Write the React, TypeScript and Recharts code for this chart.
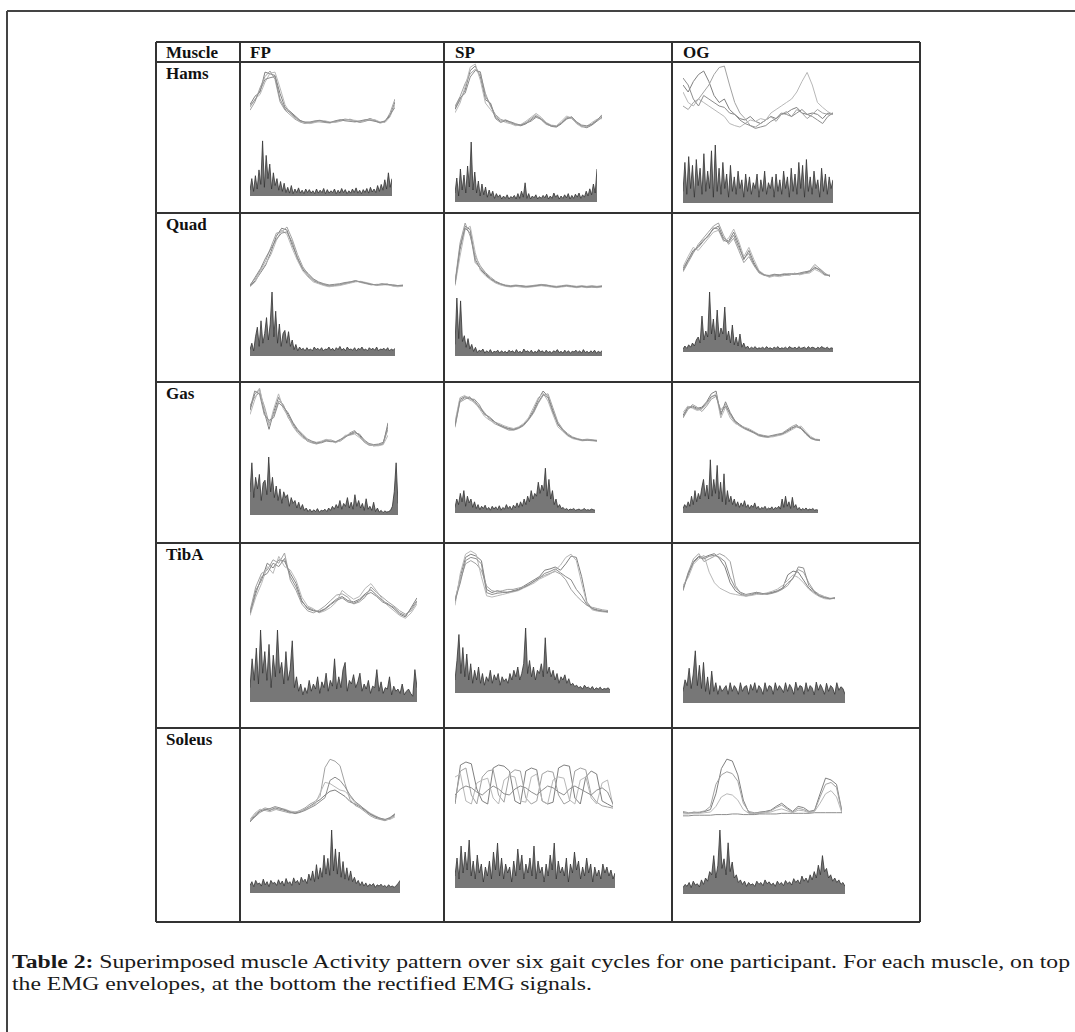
import React from 'react';
import { LineChart, Line, AreaChart, Area, XAxis, YAxis } from 'recharts';

// ---------- labels ----------
const muscles = ['Hams', 'Quad', 'Gas', 'TibA', 'Soleus'];
const conditions = ['FP', 'SP', 'OG'];
const headerMuscle = 'Muscle';
const captionBold = 'Table 2:';
const captionLine1 = ' Superimposed muscle Activity pattern over six gait cycles for one participant. For each muscle, on top';
const captionLine2 = 'the EMG envelopes, at the bottom the rectified EMG signals.';

// ---------- EMG envelopes (0-100 of each panel) ----------
const hamsFpEnv = [
  [40, 55, 62, 98, 95, 92, 60, 35, 28, 20, 12, 8, 7, 9, 11, 10, 8, 9, 12, 14, 13, 10, 9, 12, 15, 12, 8, 10, 20, 45],
  [30, 45, 70, 90, 100, 85, 45, 30, 22, 14, 9, 6, 8, 10, 9, 8, 7, 10, 11, 12, 14, 11, 8, 10, 13, 11, 7, 9, 25, 50],
  [35, 50, 58, 80, 96, 98, 70, 40, 25, 16, 10, 7, 6, 8, 10, 11, 9, 8, 10, 13, 12, 12, 10, 11, 14, 13, 9, 8, 18, 40],
  [38, 48, 65, 85, 88, 90, 50, 32, 26, 18, 11, 9, 9, 11, 12, 9, 8, 11, 13, 11, 10, 9, 11, 13, 12, 10, 8, 11, 22, 35],
];
const hamsSpEnv = [
  [30, 45, 60, 90, 97, 80, 45, 40, 18, 12, 14, 10, 6, 5, 8, 14, 20, 16, 8, 4, 3, 8, 16, 18, 10, 4, 2, 6, 12, 18],
  [35, 50, 70, 85, 92, 85, 55, 35, 22, 15, 12, 9, 7, 6, 10, 16, 22, 14, 7, 5, 4, 10, 18, 16, 9, 5, 3, 8, 14, 20],
  [25, 40, 65, 95, 100, 75, 40, 30, 20, 14, 10, 8, 5, 7, 12, 18, 24, 18, 10, 6, 5, 12, 20, 17, 8, 3, 4, 10, 15, 16],
  [32, 48, 55, 80, 90, 88, 50, 38, 16, 10, 13, 11, 8, 6, 9, 12, 18, 15, 9, 5, 4, 9, 15, 19, 11, 6, 5, 7, 13, 22],
];
const hamsOgEnv = [
  [70, 60, 75, 85, 90, 75, 55, 45, 50, 35, 28, 22, 20, 25, 18, 15, 20, 25, 22, 28, 30, 35, 38, 30, 28, 30, 28, 22, 30, 28],
  [40, 35, 45, 50, 60, 70, 85, 95, 97, 70, 45, 30, 22, 12, 10, 15, 20, 25, 18, 28, 32, 25, 35, 30, 22, 28, 35, 30, 28, 30],
  [60, 45, 40, 50, 45, 40, 35, 30, 25, 15, 12, 10, 15, 20, 18, 22, 20, 30, 35, 40, 45, 50, 60, 75, 88, 70, 45, 38, 32, 28],
  [80, 70, 50, 40, 55, 50, 45, 40, 38, 30, 28, 20, 15, 12, 8, 10, 12, 18, 22, 30, 28, 25, 30, 35, 28, 25, 20, 15, 25, 30],
];
const quadFpEnv = [
  [3, 12, 25, 38, 60, 85, 98, 95, 70, 50, 30, 20, 12, 8, 5, 3, 4, 5, 7, 9, 11, 10, 8, 6, 5, 7, 6, 4, 3, 4],
  [5, 15, 30, 45, 68, 90, 92, 100, 80, 55, 35, 22, 14, 9, 6, 4, 5, 6, 8, 10, 12, 9, 7, 5, 6, 6, 5, 5, 4, 5],
  [2, 10, 28, 40, 55, 78, 95, 88, 65, 45, 28, 18, 10, 7, 4, 2, 3, 4, 6, 8, 10, 11, 9, 7, 4, 6, 7, 3, 2, 3],
  [4, 18, 32, 50, 65, 80, 90, 92, 75, 48, 32, 24, 15, 10, 7, 5, 6, 7, 9, 10, 12, 10, 8, 6, 5, 5, 6, 5, 4, 4],
];
const quadSpEnv = [
  [8, 60, 95, 90, 45, 30, 22, 15, 10, 7, 5, 4, 5, 4, 3, 4, 5, 6, 5, 4, 3, 4, 5, 4, 3, 4, 3, 4, 3, 4],
  [10, 70, 100, 80, 50, 35, 25, 18, 12, 8, 6, 5, 6, 5, 4, 5, 6, 7, 6, 5, 4, 5, 6, 5, 4, 5, 4, 5, 4, 5],
  [5, 50, 90, 95, 55, 28, 20, 14, 9, 6, 4, 3, 4, 3, 2, 3, 4, 5, 4, 3, 2, 3, 4, 3, 2, 3, 2, 3, 2, 3],
  [7, 65, 92, 85, 40, 32, 24, 16, 11, 8, 5, 4, 5, 5, 4, 4, 5, 6, 6, 4, 3, 4, 5, 4, 3, 4, 3, 3, 3, 4],
];
const quadOgEnv = [
  [25, 40, 55, 60, 70, 80, 90, 95, 75, 70, 85, 65, 40, 55, 35, 20, 15, 12, 15, 14, 16, 15, 17, 16, 18, 20, 28, 22, 15, 14],
  [20, 35, 50, 65, 75, 85, 95, 100, 80, 65, 75, 55, 35, 45, 30, 18, 14, 13, 14, 15, 17, 16, 16, 17, 19, 22, 32, 25, 18, 12],
  [28, 45, 60, 55, 65, 75, 85, 88, 70, 75, 90, 70, 45, 60, 40, 22, 16, 11, 13, 12, 14, 14, 18, 15, 17, 18, 24, 20, 14, 15],
  [22, 38, 52, 62, 72, 78, 92, 90, 72, 68, 80, 60, 42, 50, 32, 20, 15, 14, 16, 15, 15, 17, 16, 18, 20, 21, 26, 24, 16, 13],
];
const gasFpEnv = [
  [62, 90, 98, 60, 30, 60, 84, 70, 55, 40, 28, 20, 12, 8, 6, 9, 12, 10, 8, 12, 18, 22, 26, 20, 10, 4, 2, 3, 5, 41],
  [70, 85, 92, 70, 40, 55, 78, 72, 50, 38, 25, 18, 10, 7, 5, 8, 11, 12, 9, 10, 16, 24, 28, 18, 8, 3, 3, 4, 6, 30],
  [55, 80, 100, 65, 35, 65, 90, 65, 52, 35, 24, 16, 11, 9, 8, 10, 13, 11, 7, 11, 20, 20, 22, 16, 9, 5, 2, 2, 4, 20],
  [65, 95, 90, 55, 45, 50, 75, 68, 58, 42, 30, 22, 14, 10, 7, 7, 10, 9, 9, 13, 17, 21, 24, 22, 12, 6, 4, 5, 8, 35],
];
const gasSpEnv = [
  [40, 85, 90, 88, 82, 70, 60, 52, 45, 40, 36, 33, 32, 35, 40, 50, 65, 85, 100, 90, 65, 40, 30, 22, 16, 14, 12, 13, 12, 11],
  [35, 80, 85, 90, 78, 72, 62, 50, 42, 38, 34, 30, 30, 33, 38, 48, 60, 78, 92, 95, 70, 45, 32, 24, 18, 15, 13, 14, 13, 12],
  [45, 88, 92, 84, 80, 68, 55, 48, 44, 42, 38, 35, 33, 36, 42, 52, 70, 88, 96, 82, 58, 36, 28, 20, 15, 13, 11, 12, 11, 10],
  [38, 82, 88, 86, 85, 75, 58, 54, 46, 39, 35, 32, 31, 34, 39, 49, 62, 80, 94, 88, 62, 42, 30, 21, 17, 14, 12, 12, 12, 11],
];
const gasOgEnv = [
  [55, 70, 72, 68, 70, 80, 95, 100, 55, 80, 60, 45, 38, 32, 28, 24, 18, 16, 15, 17, 18, 20, 25, 30, 36, 32, 22, 14, 10, 9],
  [50, 65, 75, 70, 62, 72, 85, 90, 65, 75, 55, 42, 35, 30, 26, 22, 17, 15, 14, 16, 19, 22, 28, 34, 38, 30, 20, 12, 9, 8],
  [60, 72, 68, 64, 66, 75, 88, 95, 50, 70, 50, 40, 36, 33, 30, 25, 20, 18, 16, 15, 17, 19, 23, 28, 33, 35, 25, 16, 11, 10],
  [52, 68, 70, 66, 68, 78, 90, 92, 60, 72, 58, 44, 37, 31, 27, 23, 19, 17, 16, 18, 20, 21, 26, 32, 34, 30, 21, 13, 10, 9],
];
const tibaFpEnv = [
  [10, 45, 60, 85, 78, 90, 88, 70, 55, 30, 18, 15, 14, 18, 25, 32, 36, 30, 28, 32, 40, 46, 38, 30, 25, 18, 10, 6, 20, 34],
  [15, 50, 70, 75, 90, 85, 100, 60, 45, 25, 15, 12, 16, 22, 30, 38, 40, 35, 25, 28, 35, 50, 42, 35, 28, 22, 15, 10, 15, 28],
  [8, 35, 55, 80, 70, 95, 80, 75, 60, 35, 22, 18, 12, 15, 20, 28, 45, 38, 32, 36, 48, 55, 44, 32, 22, 15, 8, 4, 12, 25],
  [12, 40, 65, 70, 85, 80, 92, 65, 50, 28, 20, 16, 13, 17, 24, 30, 34, 28, 26, 30, 38, 42, 36, 28, 24, 20, 12, 8, 18, 30],
];
const tibaSpEnv = [
  [20, 60, 90, 95, 92, 85, 40, 35, 38, 36, 35, 38, 40, 45, 50, 55, 60, 70, 72, 75, 70, 80, 92, 90, 60, 20, 10, 8, 6, 5],
  [25, 55, 80, 85, 80, 70, 45, 38, 36, 38, 40, 40, 42, 44, 48, 52, 58, 62, 65, 68, 64, 55, 40, 30, 22, 15, 12, 10, 8, 7],
  [15, 65, 95, 100, 95, 60, 30, 28, 30, 32, 34, 36, 38, 42, 46, 50, 56, 60, 64, 70, 78, 90, 95, 85, 50, 18, 8, 6, 5, 4],
  [22, 50, 85, 90, 88, 80, 35, 32, 34, 35, 36, 37, 39, 43, 47, 53, 58, 65, 68, 72, 66, 60, 55, 40, 30, 16, 10, 7, 6, 5],
];
const tibaOgEnv = [
  [30, 55, 80, 90, 88, 92, 95, 85, 70, 40, 25, 18, 15, 17, 20, 18, 20, 22, 25, 30, 55, 62, 60, 45, 30, 22, 15, 12, 10, 12],
  [28, 60, 85, 95, 80, 85, 90, 95, 90, 80, 35, 20, 16, 18, 22, 20, 18, 20, 23, 28, 35, 50, 65, 60, 40, 25, 18, 14, 11, 10],
  [35, 50, 75, 85, 92, 60, 40, 30, 25, 20, 18, 16, 15, 16, 18, 19, 21, 24, 28, 35, 45, 55, 50, 40, 28, 20, 14, 10, 9, 11],
  [25, 58, 78, 88, 85, 90, 92, 88, 80, 50, 30, 22, 18, 20, 22, 20, 19, 21, 24, 29, 40, 48, 70, 68, 35, 24, 16, 12, 10, 11],
];
const soleusFpEnv = [
  [0, 10, 17, 20, 18, 22, 20, 18, 15, 14, 16, 20, 25, 30, 35, 42, 48, 50, 45, 40, 32, 28, 24, 18, 12, 8, 5, 3, 6, 12],
  [2, 12, 18, 22, 20, 20, 18, 16, 14, 15, 18, 22, 28, 32, 40, 85, 98, 95, 88, 60, 35, 26, 22, 16, 10, 6, 4, 2, 5, 10],
  [4, 14, 20, 18, 16, 19, 21, 20, 17, 16, 17, 19, 24, 28, 45, 62, 60, 55, 50, 48, 40, 30, 25, 20, 14, 10, 6, 4, 4, 8],
  [1, 8, 15, 19, 21, 24, 22, 19, 16, 13, 15, 18, 22, 26, 32, 38, 65, 70, 65, 55, 42, 32, 26, 19, 13, 9, 6, 4, 7, 13],
];
const soleusSpEnv = [
  [15, 80, 85, 82, 40, 20, 15, 75, 80, 78, 70, 20, 15, 70, 75, 72, 20, 15, 18, 75, 80, 78, 25, 15, 60, 70, 65, 20, 15, 10],
  [20, 70, 75, 30, 15, 60, 70, 72, 30, 18, 65, 72, 70, 25, 15, 20, 65, 70, 68, 30, 15, 20, 70, 75, 72, 30, 18, 12, 10, 8],
  [60, 65, 20, 15, 50, 55, 58, 25, 15, 55, 62, 60, 20, 18, 60, 65, 20, 15, 55, 60, 58, 22, 15, 55, 60, 25, 15, 50, 55, 12],
  [30, 40, 45, 42, 35, 30, 38, 45, 40, 32, 30, 40, 45, 42, 35, 30, 38, 45, 42, 35, 30, 40, 45, 40, 35, 30, 38, 42, 35, 15],
];
const soleusOgEnv = [
  [10, 9, 11, 10, 12, 15, 40, 80, 95, 92, 70, 30, 10, 9, 11, 12, 14, 20, 25, 18, 12, 20, 18, 12, 14, 40, 65, 62, 55, 12],
  [12, 10, 10, 11, 13, 20, 55, 70, 75, 72, 60, 25, 12, 10, 10, 11, 13, 18, 22, 16, 11, 17, 15, 11, 13, 35, 55, 58, 50, 10],
  [8, 8, 9, 9, 10, 11, 20, 35, 40, 38, 30, 15, 9, 8, 9, 10, 11, 14, 16, 13, 10, 14, 13, 10, 12, 25, 40, 45, 35, 9],
  [5, 5, 6, 6, 6, 6, 7, 7, 7, 8, 8, 7, 7, 7, 8, 8, 8, 8, 9, 9, 9, 9, 9, 9, 10, 10, 10, 10, 10, 10],
];

// ---------- rectified EMG (0-100 of each panel) ----------
const hamsFpEmg = [10, 30, 8, 35, 12, 45, 20, 95, 15, 70, 30, 55, 12, 40, 18, 30, 10, 25, 8, 22, 6, 15, 5, 18, 4, 12, 6, 14, 5, 10, 4, 12, 6, 11, 5, 9, 4, 12, 5, 10, 6, 13, 4, 11, 5, 9, 6, 12, 4, 10, 5, 13, 6, 11, 4, 9, 5, 12, 6, 14, 5, 10, 4, 11, 6, 13, 5, 15, 7, 12, 6, 18, 8, 20, 10, 28, 12, 40, 15, 30];
const hamsSpEmg = [15, 40, 10, 55, 20, 45, 15, 60, 25, 100, 20, 50, 15, 35, 10, 30, 12, 25, 8, 20, 10, 18, 6, 14, 8, 12, 5, 10, 6, 12, 5, 9, 7, 11, 5, 14, 6, 18, 8, 32, 6, 14, 5, 10, 7, 12, 5, 9, 6, 11, 7, 13, 5, 10, 6, 15, 8, 12, 5, 10, 6, 12, 7, 14, 5, 11, 6, 13, 8, 15, 6, 12, 8, 18, 10, 22, 12, 30, 15, 55];
const hamsOgEmg = [20, 70, 15, 80, 25, 65, 10, 75, 30, 60, 15, 85, 20, 55, 25, 90, 10, 100, 20, 60, 15, 70, 25, 50, 10, 65, 20, 45, 15, 55, 25, 40, 10, 50, 20, 45, 15, 35, 25, 50, 10, 40, 20, 55, 15, 35, 25, 45, 10, 50, 20, 40, 15, 55, 25, 45, 10, 60, 20, 50, 15, 70, 25, 65, 10, 75, 20, 45, 15, 55, 25, 40, 10, 60, 20, 50, 15, 45, 25, 40];
const quadFpEmg = [10, 20, 8, 30, 45, 15, 55, 20, 35, 60, 25, 50, 100, 30, 70, 20, 50, 15, 35, 40, 20, 38, 15, 25, 10, 18, 8, 14, 10, 12, 8, 13, 9, 11, 8, 14, 10, 12, 9, 13, 8, 11, 10, 14, 9, 12, 8, 13, 10, 15, 9, 12, 8, 14, 10, 11, 9, 13, 8, 12, 10, 14, 9, 11, 8, 13, 10, 12, 9, 14, 8, 11, 10, 12, 9, 13, 8, 11, 9, 12];
const quadSpEmg = [20, 100, 30, 95, 25, 35, 15, 30, 12, 20, 8, 15, 6, 10, 8, 12, 5, 9, 6, 11, 5, 8, 7, 10, 5, 9, 6, 8, 5, 10, 7, 9, 5, 11, 6, 8, 5, 12, 7, 9, 6, 10, 5, 8, 6, 11, 7, 9, 5, 10, 6, 8, 5, 9, 7, 11, 6, 8, 5, 10, 6, 9, 5, 8, 7, 10, 6, 9, 5, 11, 6, 8, 5, 9, 6, 10, 5, 8, 6, 9];
const quadOgEmg = [5, 10, 6, 12, 8, 15, 10, 20, 25, 15, 60, 20, 35, 25, 100, 30, 55, 20, 70, 25, 40, 30, 75, 20, 35, 15, 45, 12, 25, 10, 30, 8, 15, 6, 10, 5, 8, 6, 9, 5, 7, 6, 8, 5, 9, 6, 7, 5, 8, 6, 9, 5, 7, 6, 8, 5, 9, 7, 6, 8, 5, 9, 6, 7, 8, 5, 9, 6, 8, 7, 5, 8, 6, 9, 7, 6, 8, 5, 7, 6];
const gasFpEmg = [40, 90, 30, 65, 45, 70, 25, 55, 60, 35, 100, 40, 65, 30, 50, 25, 45, 20, 40, 30, 35, 15, 30, 20, 25, 12, 22, 10, 18, 8, 12, 6, 10, 5, 9, 6, 11, 5, 8, 7, 10, 6, 12, 8, 15, 10, 18, 12, 25, 10, 20, 15, 30, 12, 22, 10, 35, 15, 25, 12, 20, 8, 28, 10, 15, 8, 22, 6, 12, 5, 8, 4, 7, 5, 6, 8, 15, 40, 90, 20];
const gasSpEmg = [10, 25, 15, 35, 20, 40, 12, 30, 18, 25, 10, 20, 8, 15, 6, 12, 8, 14, 6, 10, 5, 12, 7, 11, 6, 13, 5, 10, 7, 15, 8, 12, 6, 14, 9, 18, 10, 20, 12, 25, 15, 30, 20, 40, 25, 35, 30, 55, 35, 50, 40, 80, 30, 60, 25, 40, 15, 25, 10, 15, 8, 10, 6, 8, 5, 7, 6, 8, 5, 6, 7, 5, 6, 8, 5, 6, 5, 7, 6, 5];
const gasOgEmg = [8, 15, 10, 20, 12, 30, 15, 40, 20, 35, 25, 45, 60, 30, 50, 25, 95, 30, 60, 35, 85, 25, 55, 20, 70, 15, 40, 20, 30, 15, 25, 12, 20, 10, 18, 12, 22, 10, 15, 8, 14, 10, 18, 8, 12, 6, 10, 8, 12, 6, 9, 7, 11, 6, 10, 8, 12, 7, 25, 10, 30, 12, 20, 8, 28, 10, 15, 6, 10, 5, 8, 6, 9, 5, 7, 6, 8, 5, 6, 5];
const tibaFpEmg = [20, 60, 30, 75, 25, 100, 40, 70, 30, 80, 20, 65, 35, 100, 40, 55, 25, 70, 30, 45, 85, 20, 35, 15, 25, 10, 20, 12, 30, 15, 25, 18, 35, 12, 28, 20, 40, 15, 30, 22, 60, 18, 35, 20, 45, 55, 15, 30, 25, 38, 20, 28, 40, 15, 25, 18, 30, 12, 22, 20, 45, 15, 28, 12, 20, 18, 35, 10, 22, 15, 18, 12, 25, 10, 15, 18, 12, 8, 45, 20];
const tibaSpEmg = [20, 50, 90, 30, 70, 25, 60, 20, 45, 15, 35, 20, 40, 15, 30, 12, 25, 18, 35, 15, 28, 20, 30, 12, 25, 18, 22, 15, 30, 20, 35, 25, 40, 20, 30, 45, 100, 30, 50, 25, 40, 20, 35, 30, 45, 25, 85, 30, 40, 25, 35, 20, 30, 15, 25, 20, 28, 15, 22, 12, 15, 10, 12, 8, 10, 6, 12, 8, 9, 6, 10, 5, 8, 6, 9, 5, 7, 6, 8, 5];
const tibaOgEmg = [20, 40, 30, 60, 25, 50, 90, 30, 65, 25, 70, 20, 45, 15, 55, 20, 35, 15, 30, 20, 25, 30, 15, 35, 20, 30, 25, 15, 35, 20, 28, 30, 15, 32, 22, 35, 18, 30, 25, 15, 35, 20, 30, 28, 15, 35, 22, 30, 25, 18, 35, 20, 32, 26, 15, 36, 22, 30, 28, 15, 35, 20, 30, 26, 14, 36, 22, 32, 25, 15, 34, 20, 30, 26, 15, 35, 22, 28, 25, 15];
const soleusFpEmg = [12, 18, 10, 20, 14, 16, 11, 22, 13, 18, 10, 20, 15, 17, 12, 21, 14, 19, 11, 23, 15, 18, 12, 24, 16, 20, 13, 25, 18, 22, 15, 30, 20, 35, 18, 45, 22, 40, 25, 60, 30, 55, 28, 100, 35, 70, 30, 65, 25, 50, 22, 40, 20, 35, 18, 25, 15, 20, 12, 18, 11, 16, 10, 14, 12, 15, 9, 13, 11, 14, 10, 12, 9, 13, 10, 11, 9, 12, 15, 20];
const soleusSpEmg = [20, 50, 15, 70, 25, 60, 30, 80, 20, 45, 15, 55, 25, 40, 10, 35, 20, 45, 15, 60, 30, 75, 20, 50, 15, 40, 25, 35, 10, 45, 20, 65, 30, 55, 15, 40, 25, 50, 20, 70, 15, 45, 25, 35, 10, 40, 20, 55, 30, 75, 15, 45, 25, 35, 20, 50, 10, 40, 25, 60, 30, 45, 15, 35, 20, 50, 25, 40, 10, 35, 20, 30, 15, 40, 25, 35, 20, 30, 15, 25];
const soleusOgEmg = [10, 15, 12, 18, 10, 20, 14, 16, 11, 22, 15, 25, 20, 35, 30, 60, 25, 45, 100, 40, 55, 30, 80, 35, 50, 25, 30, 18, 22, 15, 20, 12, 18, 14, 16, 12, 20, 15, 18, 13, 22, 16, 19, 14, 17, 12, 20, 15, 18, 13, 21, 16, 19, 14, 24, 18, 22, 16, 28, 20, 25, 18, 30, 22, 35, 25, 45, 30, 60, 35, 40, 25, 30, 20, 25, 18, 22, 15, 18, 12];

const envData = [
  [hamsFpEnv, hamsSpEnv, hamsOgEnv],
  [quadFpEnv, quadSpEnv, quadOgEnv],
  [gasFpEnv, gasSpEnv, gasOgEnv],
  [tibaFpEnv, tibaSpEnv, tibaOgEnv],
  [soleusFpEnv, soleusSpEnv, soleusOgEnv],
];
const emgData = [
  [hamsFpEmg, hamsSpEmg, hamsOgEmg],
  [quadFpEmg, quadSpEmg, quadOgEmg],
  [gasFpEmg, gasSpEmg, gasOgEmg],
  [tibaFpEmg, tibaSpEmg, tibaOgEmg],
  [soleusFpEmg, soleusSpEmg, soleusOgEmg],
];

// ---------- layout (pixel boxes: x, y, w, h) ----------
const envBoxes = [
  [[250, 70, 145, 58], [455, 63, 147, 67], [683, 63, 150, 72]],
  [[250, 226, 153, 63], [455, 222, 147, 68], [683, 222, 147, 63]],
  [[250, 387, 138, 61], [455, 390, 142, 58], [683, 390, 137, 56]],
  [[250, 552, 167, 70], [455, 550, 153, 66], [683, 550, 152, 55]],
  [[250, 757, 145, 66], [455, 752, 158, 62], [683, 755, 159, 65]],
];
const emgBoxes = [
  [[250, 138, 142, 58], [455, 142, 142, 60], [683, 145, 150, 58]],
  [[250, 292, 145, 64], [455, 298, 147, 58], [683, 292, 150, 60]],
  [[250, 457, 148, 58], [455, 457, 140, 56], [683, 457, 135, 56]],
  [[250, 630, 167, 72], [455, 628, 155, 65], [683, 645, 162, 58]],
  [[250, 830, 150, 63], [455, 828, 160, 60], [683, 830, 162, 64]],
];
const rowTops = [62, 213, 382, 543, 728];
const colLines = [156, 240, 444, 672, 920];
const tableTop = 42;
const tableBottom = 922;
const headerLine = 62;
const colTextX = [166, 250, 455, 683];

const ENV_COLORS = ['#808080', '#a2a2a2', '#b8b8b8', '#8e8e8e'];
const FONT = '"Liberation Serif", "Times New Roman", serif';

function Envelope({ series, box }: { series: number[][]; box: number[] }) {
  const [x, y, w, h] = box;
  const rows = series[0].map((_, i) => {
    const r: Record<string, number> = { i };
    series.forEach((s, k) => {
      r['l' + k] = s[i];
    });
    return r;
  });
  return (
    <div style={{ position: 'absolute', left: x, top: y }}>
      <LineChart width={w} height={h} data={rows} margin={{ top: 1, right: 0, bottom: 1, left: 0 }}>
        <XAxis dataKey="i" hide />
        <YAxis hide domain={[0, 100]} />
        {series.map((_, k) => (
          <Line
            key={k}
            dataKey={'l' + k}
            type="linear"
            dot={false}
            stroke={ENV_COLORS[k % ENV_COLORS.length]}
            strokeWidth={1}
            isAnimationActive={false}
          />
        ))}
      </LineChart>
    </div>
  );
}

function Emg({ values, box }: { values: number[]; box: number[] }) {
  const [x, y, w, h] = box;
  const rows = values.map((v, i) => ({ i, v }));
  return (
    <div style={{ position: 'absolute', left: x, top: y }}>
      <AreaChart width={w} height={h} data={rows} margin={{ top: 0, right: 0, bottom: 0, left: 0 }}>
        <XAxis dataKey="i" hide />
        <YAxis hide domain={[0, 100]} />
        <Area
          dataKey="v"
          type="linear"
          stroke="#333333"
          strokeWidth={0.8}
          fill="#555555"
          fillOpacity={0.8}
          isAnimationActive={false}
        />
      </AreaChart>
    </div>
  );
}

export default function App() {
  return (
    <div
      style={{
        position: 'absolute',
        left: 0,
        top: 0,
        width: 1075,
        height: 1032,
        overflow: 'hidden',
        background: '#fff',
      }}
    >
      <svg width={1075} height={1032} style={{ position: 'absolute', left: 0, top: 0 }}>
        {/* outer frame */}
        <line x1={7} y1={11} x2={1075} y2={11} stroke="#444" strokeWidth={2} />
        <line x1={7} y1={11} x2={7} y2={1032} stroke="#444" strokeWidth={2} />
        {/* table grid */}
        {colLines.map((cx, i) => (
          <line key={'c' + i} x1={cx} y1={tableTop} x2={cx} y2={tableBottom} stroke="#333" strokeWidth={2} />
        ))}
        <line x1={colLines[0]} y1={tableTop} x2={colLines[4]} y2={tableTop} stroke="#333" strokeWidth={2} />
        <line x1={colLines[0]} y1={headerLine} x2={colLines[4]} y2={headerLine} stroke="#333" strokeWidth={2} />
        {rowTops.slice(1).map((ry, i) => (
          <line key={'r' + i} x1={colLines[0]} y1={ry} x2={colLines[4]} y2={ry} stroke="#333" strokeWidth={2} />
        ))}
        <line x1={colLines[0]} y1={tableBottom} x2={colLines[4]} y2={tableBottom} stroke="#333" strokeWidth={2} />
        {/* header */}
        <g fontFamily={FONT} fontWeight="bold" fontSize={17} fill="#111">
          <text x={colTextX[0]} y={58}>{headerMuscle}</text>
          {conditions.map((c, i) => (
            <text key={c} x={colTextX[i + 1]} y={58}>{c}</text>
          ))}
          {muscles.map((m, i) => (
            <text key={m} x={colTextX[0]} y={rowTops[i] + 17}>{m}</text>
          ))}
        </g>
        {/* caption */}
        <g fontFamily={FONT} fontSize={18} fill="#1a1a1a">
          <text x={12} y={968} textLength={1058} lengthAdjust="spacingAndGlyphs">
            <tspan fontWeight="bold">{captionBold}</tspan>
            {captionLine1}
          </text>
          <text x={12} y={990} textLength={580} lengthAdjust="spacingAndGlyphs">
            {captionLine2}
          </text>
        </g>
      </svg>
      {envData.map((row, r) =>
        row.map((series, c) => <Envelope key={'e' + r + c} series={series} box={envBoxes[r][c]} />)
      )}
      {emgData.map((row, r) =>
        row.map((values, c) => <Emg key={'m' + r + c} values={values} box={emgBoxes[r][c]} />)
      )}
    </div>
  );
}
